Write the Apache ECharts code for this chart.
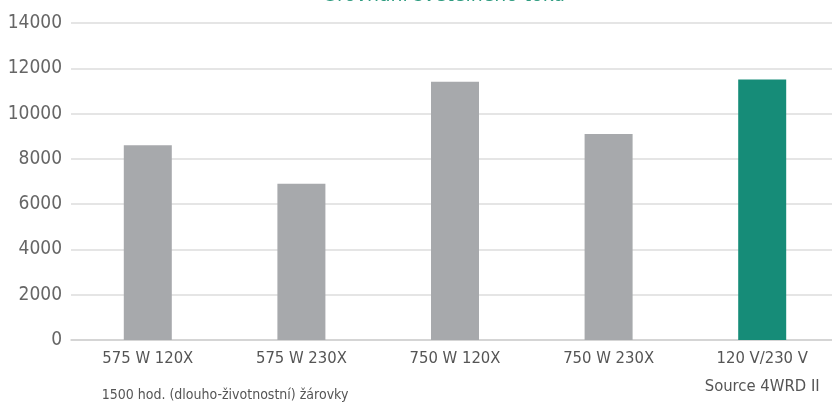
<!DOCTYPE html>
<html>
<head>
<meta charset="utf-8">
<script src="https://cdn.jsdelivr.net/npm/echarts@6/dist/echarts.min.js"></script>
<style>html,body{margin:0;padding:0;background:#fff;}#c{width:832px;height:405px;}</style>
</head>
<body>
<div id="c"></div>
<script>
const categories = ['575 W 120X', '575 W 230X', '750 W 120X', '750 W 230X', '120 V/230 V\nSource 4WRD II'];
const values = [8600, 6900, 11400, 9100, 11500];
const barColors = ['#a7a9ac', '#a7a9ac', '#a7a9ac', '#a7a9ac', '#168c78'];
const yTicks = { min: 0, max: 14000, interval: 2000 };
const titleText = 'Srovnání světelného toku';
const noteText = '1500 hod. (dlouho-životnostní) žárovky';

const FONT = '"Liberation Sans Narrow", "DejaVu Sans Condensed", sans-serif';
const chart = echarts.init(document.getElementById('c'));
chart.setOption({
  animation: false,
  backgroundColor: '#fff',
  grid: { left: 71, top: 23, width: 768, height: 317, containLabel: false, outerBoundsMode: 'none' },
  xAxis: {
    type: 'category',
    data: categories,
    axisLine: { lineStyle: { color: '#d0d0d0', width: 1.5 } },
    axisTick: { show: false },
    axisLabel: { color: '#555', fontFamily: FONT, fontSize: 16.5, lineHeight: 28, margin: 5, interval: 0, hideOverlap: false }
  },
  yAxis: {
    type: 'value',
    min: yTicks.min, max: yTicks.max, interval: yTicks.interval,
    axisLine: { show: false },
    axisTick: { show: false },
    splitLine: { lineStyle: { color: '#dcdcdc', width: 1.5 } },
    axisLabel: { color: '#666', fontFamily: FONT, fontSize: 19, margin: 9, formatter: v => String(v) }
  },
  series: [{
    type: 'bar',
    data: values.map((v, i) => ({ value: v, itemStyle: { color: barColors[i] } })),
    barWidth: 48
  }],
  graphic: [
    { type: 'text', x: 445, y: 6,
      style: { text: titleText, fill: '#2f9c80', font: '21px ' + FONT, textAlign: 'center', textVerticalAlign: 'bottom' } },
    { type: 'text', x: 225, y: 395,
      style: { text: noteText, fill: '#555', font: '14px ' + FONT, textAlign: 'center', textVerticalAlign: 'middle' } }
  ]
});
</script>
</body>
</html>
